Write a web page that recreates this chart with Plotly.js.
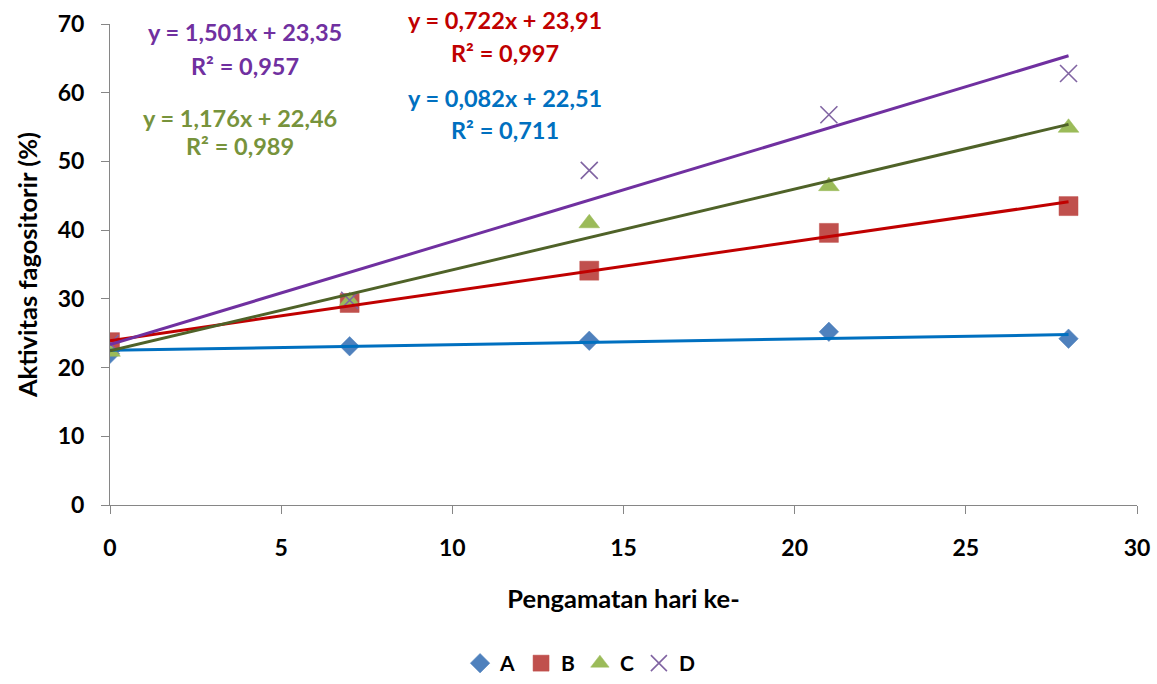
<!DOCTYPE html>
<html>
<head>
<meta charset="utf-8">
<script src="https://cdn.plot.ly/plotly-3.0.1.min.js"></script>
<style>html,body{margin:0;padding:0;background:#fff;}#chart{width:1157px;height:684px;}</style>
</head>
<body>
<div id="chart"></div>
<script>
// Data
const days = [0, 7, 14, 21, 28];
const seriesNames = ['A', 'B', 'C', 'D'];
const valuesA = [22.0, 23.1, 23.9, 25.2, 24.2];
const valuesB = [23.7, 29.4, 34.1, 39.6, 43.5];
const valuesC = [22.3, 29.7, 41.0, 46.4, 54.9];
const valuesD = [23.5, 29.8, 48.7, 56.8, 62.8];
// Trendline coefficients (from the equations shown on the chart)
const slopes = [0.082, 0.722, 1.176, 1.501];
const intercepts = [22.51, 23.91, 22.46, 23.35];
const r2 = ['0,711', '0,997', '0,989', '0,957'];

const values = [valuesA, valuesB, valuesC, valuesD];
const markerColors = ['#4F81BD', '#C0504D', '#9BBB59', '#8064A2'];
const lineColors = ['#0070C0', '#C00000', '#4F6228', '#7030A0'];
const textColors = ['#0070C0', '#C00000', '#77933C', '#7030A0'];
const symbols = ['diamond', 'square', 'triangle-up', 'x-thin-open'];
const sizes = [15, 19, 18, 17];

const FONT = 'Lato, "Open Sans", sans-serif';
const traces = [];
values.forEach((v, i) => {
  traces.push({
    x: days, y: v, type: 'scatter', mode: 'markers', name: seriesNames[i],
    marker: {symbol: symbols[i], size: sizes[i], color: markerColors[i],
      line: {color: markerColors[i], width: i === 3 ? 1.6 : 0.5}}
  });
});
values.forEach((v, i) => {
  const x0 = days[0], x1 = days[days.length - 1];
  traces.push({
    x: [x0, x1], y: [intercepts[i] + slopes[i] * x0, intercepts[i] + slopes[i] * x1],
    type: 'scatter', mode: 'lines', showlegend: false, hoverinfo: 'skip',
    line: {color: lineColors[i], width: 3}
  });
});

function fmt(n, d) { return n.toFixed(d).replace('.', ','); }
// label positions in paper coords
const eqPos = [[0.3846, 0.8462, 0.7796], [0.3846, 1.0083, 0.9397], [0.1266, 0.8046, 0.7464], [0.1315, 0.9834, 0.9127]];
const annotations = [];
for (let i = 0; i < 4; i++) {
  const f = {family: FONT, size: 23.5, color: textColors[i], weight: 'bold'};
  annotations.push({xref: 'paper', yref: 'paper', x: eqPos[i][0], y: eqPos[i][1], xanchor: 'center', yanchor: 'middle',
    showarrow: false, text: '<b>y = ' + fmt(slopes[i], 3) + 'x + ' + fmt(intercepts[i], 2) + '</b>', font: f});
  annotations.push({xref: 'paper', yref: 'paper', x: eqPos[i][0], y: eqPos[i][2], xanchor: 'center', yanchor: 'middle',
    showarrow: false, text: '<b>R² = ' + r2[i] + '</b>', font: f});
}

const layout = {
  width: 1157, height: 684,
  margin: {l: 110, r: 20, t: 24, b: 179},
  paper_bgcolor: '#fff', plot_bgcolor: '#fff',
  font: {family: FONT, color: '#000', size: 22},
  showlegend: true,
  legend: {orientation: 'h', xref: 'paper', yref: 'container', x: 0.4577, y: 0, xanchor: 'center', yanchor: 'bottom',
    font: {family: FONT, size: 21, weight: 'bold'}, itemwidth: 30, tracegroupgap: 0},
  xaxis: {range: [0, 30], dtick: 5, tick0: 0, showgrid: false, zeroline: false, automargin: false,
    showline: true, linecolor: '#868686', linewidth: 1, ticks: 'outside', ticklen: 8, tickcolor: '#868686',
    ticklabelstandoff: 14,
    tickfont: {family: FONT, size: 23, weight: 'bold'},
    title: {text: '<b>Pengamatan hari ke-</b>', font: {family: FONT, size: 25.5}, standoff: 30}},
  yaxis: {range: [0, 70], dtick: 10, tick0: 0, showgrid: false, zeroline: false, automargin: false,
    showline: true, linecolor: '#868686', linewidth: 1, ticks: 'outside', ticklen: 8, tickcolor: '#868686',
    ticklabelstandoff: 12,
    tickfont: {family: FONT, size: 23, weight: 'bold'},
    title: {text: '<b>Aktivitas fagositorir (%)</b>', font: {family: FONT, size: 25.5}, standoff: 12}},
  annotations: annotations
};

Plotly.newPlot('chart', traces, layout, {displayModeBar: false, staticPlot: true});
</script>
</body>
</html>
